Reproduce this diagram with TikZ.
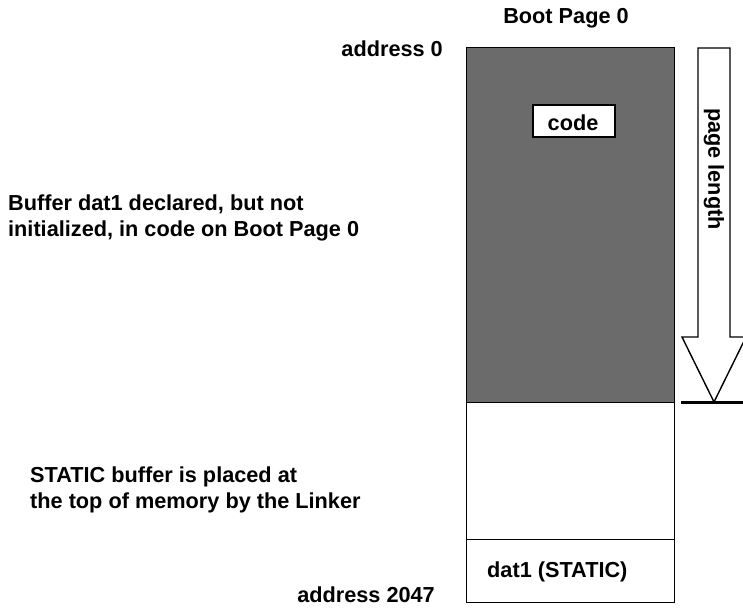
\documentclass[tikz,border=0pt]{standalone}
\usepackage{fontspec}
\setmainfont{Liberation Sans}
\tikzset{
  lbl/.style={font=\fontsize{21.7}{26}\selectfont\bfseries, inner sep=0pt},
  memblock/.style={draw, line width=1.2pt, inner sep=0pt, minimum width=208pt, anchor=north west},
}
\begin{document}
\begin{tikzpicture}[x=1pt,y=-1pt]
\useasboundingbox (0,0) rectangle (743,607);
\clip (0,0) rectangle (743,607);
% memory blocks
\node[memblock, fill=black!58, minimum height=355pt] (codepage) at (466,47) {};
\node[memblock, fill=white, minimum height=137pt] (free) at (466,402) {};
\node[memblock, fill=white, minimum height=63pt] (dat) at (466,539) {};
\node[lbl, anchor=base west] (datlbl) at (487,577) {dat1 (STATIC)};
% code box
\node[draw, fill=white, line width=1.2pt, minimum width=82pt, minimum height=32pt, inner sep=0pt] (code) at (574,121) {};
\node[lbl, anchor=base] (codelbl) at (573,130) {code};
% page length arrow
\draw[line width=1.4pt, fill=white] (698,48) -- (730,48) -- (730,337) -- (746,337) -- (714,402) -- (682,337) -- (698,337) -- cycle;
\node[lbl, rotate=-90] (plen) at (714,169) {page length};
\coordinate (lineL) at (681,402);
\coordinate (lineR) at (745,402);
\draw[line width=3pt] (lineL) -- (lineR);
% labels
\node[lbl, anchor=base] (boot) at (566,24) {Boot Page 0};
\node[lbl, anchor=base east] (addr0) at (443,57) {address 0};
\node[lbl, anchor=base east] (addr2047) at (435,602) {address 2047};
\node[lbl, anchor=base west] (buf1) at (8,210) {Buffer dat1 declared, but not};
\node[lbl, anchor=base west] (buf2) at (8,236) {initialized, in code on Boot Page 0};
\node[lbl, anchor=base west] (stat1) at (30,482) {STATIC buffer is placed at};
\node[lbl, anchor=base west] (stat2) at (30,508) {the top of memory by the Linker};
\end{tikzpicture}
\end{document}
